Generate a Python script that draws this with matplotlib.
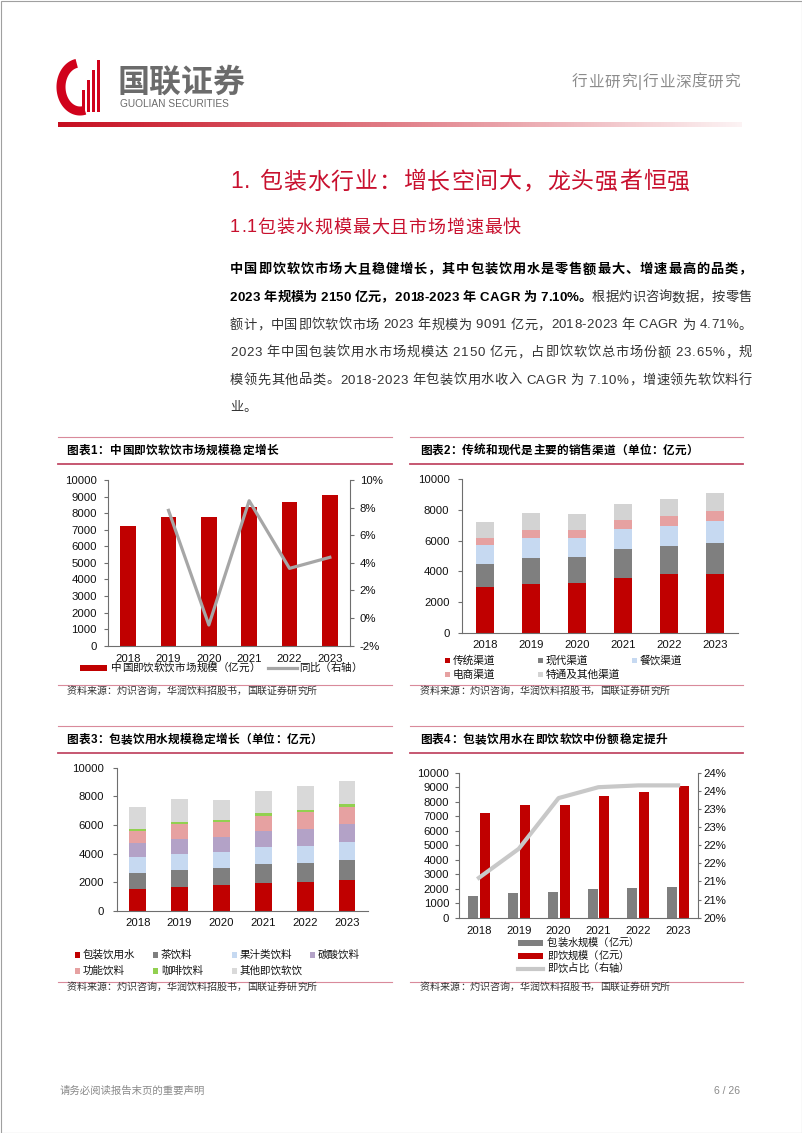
import numpy as np
import matplotlib
matplotlib.use('Agg')
import matplotlib.pyplot as plt
from matplotlib.patches import Rectangle
from matplotlib.font_manager import FontProperties

W, H = 802, 1133
FAM = ['Liberation Sans', 'Noto Sans CJK SC']
plt.rcParams['font.family'] = FAM

# ---------------- data ----------------
years = ['2018', '2019', '2020', '2021', '2022', '2023']

# chart 1
rtd_market = [7220, 7780, 7750, 8400, 8700, 9091]
rtd_yoy = [7.8, -0.5, 8.5, 3.6, 4.4]          # 2019-2023, %

# chart 2 (channels)
channel_labels = ['传统渠道', '现代渠道', '餐饮渠道', '电商渠道', '特通及其他渠道']
ch_traditional = [3000, 3200, 3250, 3600, 3800, 3830]
ch_modern = [1480, 1700, 1700, 1850, 1850, 2040]
ch_catering = [1240, 1300, 1250, 1320, 1300, 1410]
ch_ecom = [440, 460, 480, 580, 630, 650]
ch_other = [1060, 1120, 1070, 1050, 1120, 1161]

# chart 3 (categories)
cat_labels = ['包装饮用水', '茶饮料', '果汁类饮料', '碳酸饮料', '功能饮料', '咖啡饮料', '其他即饮软饮']
cat_water = [1525, 1680, 1790, 1960, 2040, 2150]
cat_tea = [1110, 1190, 1190, 1280, 1300, 1390]
cat_juice = [1100, 1120, 1100, 1190, 1210, 1260]
cat_carb = [980, 1030, 1070, 1170, 1190, 1240]
cat_func = [860, 1020, 1030, 1050, 1140, 1190]
cat_coffee = [140, 160, 160, 160, 190, 230]
cat_other = [1505, 1580, 1410, 1590, 1630, 1631]

# chart 4
water_size = cat_water
total_size = rtd_market
water_share = [21.1, 21.9, 23.3, 23.6, 23.65, 23.65]   # %
share_ticks = [20, 20.5, 21, 21.5, 22, 22.5, 23, 23.5, 24]
share_ticklabels = ['20%', '21%', '21%', '22%', '22%', '23%', '23%', '24%', '24%']

RED = '#C00000'
DGRAY = '#7F7F7F'
LBLUE = '#C6D9F1'
PINK = '#E6A1A1'
LGRAY = '#D3D3D3'
PURPLE = '#B3A2C7'
GREEN = '#92D050'
SP = '#6E6E6E'
ch_colors = [RED, DGRAY, LBLUE, PINK, LGRAY]
cat_colors = [RED, DGRAY, LBLUE, PURPLE, PINK, GREEN, '#D9D9D9']

fig = plt.figure(figsize=(W / 100, H / 100), dpi=100)
ov = fig.add_axes([0, 0, 1, 1], zorder=0)
ov.set_xlim(0, W)
ov.set_ylim(H, 0)
ov.axis('off')


def px(x0, y0, x1, y1):
    return [x0 / W, 1 - y1 / H, (x1 - x0) / W, (y1 - y0) / H]


renderer = fig.canvas.get_renderer()


def place_line(segments, x0, x1, y, size, justify=True):
    items = []
    for txt, wt, col in segments:
        fp = FontProperties(family=FAM, size=size, weight=wt)
        bw = renderer.get_text_width_height_descent('||', fp, ismath=False)[0]
        for c in txt:
            w = renderer.get_text_width_height_descent('|' + c + '|', fp, ismath=False)[0] - bw
            items.append((c, fp, col, w))
    total = sum(i[3] for i in items)
    n = len(items)
    gap = (x1 - x0 - total) / (n - 1) if (justify and n > 1) else 0
    x = x0
    for c, fp, col, w in items:
        if c != ' ':
            ov.text(x, y, c, fontproperties=fp, color=col, ha='left', va='center')
        x += w + gap


# ---------------- page frame & header ----------------
ov.add_patch(Rectangle((0.5, 0.5), W - 1, H - 1, fill=False, ec='#A0A0A0', lw=0.8))

# logo
t = np.radians(np.linspace(100, 285, 60))
ov.plot(80 + 19 * np.cos(t), 87 - 24 * np.sin(t), color='#D0021B', lw=6.5, solid_capstyle='butt')
for bx, top in zip([82, 87, 92, 97], [90, 80, 70, 60]):
    ov.add_patch(Rectangle((bx, top), 3, 112 - top, color='#D0021B', lw=0))
ov.text(118, 83, '国联证券', fontsize=23, fontweight='bold', color='#6B6B6B', ha='left', va='center')
ov.text(120, 104, 'GUOLIAN SECURITIES', fontsize=7.3, color='#6B6B6B', ha='left', va='center')
place_line([('行业研究|行业深度研究', 'normal', '#8C8C8C')], 572, 740, 82, 11.3)

grad = np.zeros((1, 300, 4))
grad[0, :, 0] = 0.78
grad[0, :, 1] = 0.05
grad[0, :, 2] = 0.12
grad[0, :, 3] = np.linspace(1.0, 0.05, 300)
ov.imshow(grad, extent=[58, 742, 127, 122], aspect='auto', interpolation='bilinear')

# ---------------- headings & body ----------------
TRED = '#C8102E'
place_line([('1. 包装水行业：增长空间大，龙头强者恒强', 'normal', TRED)], 230, 690, 182, 16.5)
place_line([('1.1包装水规模最大且市场增速最快', 'normal', TRED)], 230, 521, 228, 13)

BODY = 9.5
TXT = '#333333'
lines = [
    [('中国即饮软饮市场大且稳健增长，其中包装饮用水是零售额最大、增速最高的品类，', 'bold', '#000000')],
    [('2023 年规模为 2150 亿元，2018-2023 年 CAGR 为 7.10%。', 'bold', '#000000'),
     ('根据灼识咨询数据，按零售', 'normal', TXT)],
    [('额计，中国即饮软饮市场 2023 年规模为 9091 亿元，2018-2023 年 CAGR 为 4.71%。', 'normal', TXT)],
    [('2023 年中国包装饮用水市场规模达 2150 亿元，占即饮软饮总市场份额 23.65%，规', 'normal', TXT)],
    [('模领先其他品类。2018-2023 年包装饮用水收入 CAGR 为 7.10%，增速领先软饮料行', 'normal', TXT)],
    [('业。', 'normal', TXT)],
]
ys = [270, 298, 325.5, 353, 380.5, 408]
for i, (seg, yy) in enumerate(zip(lines, ys)):
    place_line(seg, 230, 752, yy, BODY, justify=(i < 5))

# ---------------- chart frames ----------------
LINE_L = '#D98A9B'
LINE_D = '#C24A66'
SOURCE = '资料来源：灼识咨询，华润饮料招股书，国联证券研究所'


def frame(x0, x1, ytop, ytitle, yunder, ysrc_line, ysrc, title, tx, tx1, sx1):
    ov.plot([x0, x1], [ytop, ytop], color=LINE_L, lw=0.8)
    ov.plot([x0, x1], [yunder, yunder], color=LINE_D, lw=1.3)
    ov.plot([x0, x1], [ysrc_line, ysrc_line], color=LINE_L, lw=0.8)
    place_line([(title, 'bold', '#000000')], tx, tx1, ytitle, 8.4)
    place_line([(SOURCE, 'normal', '#333333')], tx, sx1, ysrc, 7.2)


frame(58, 392, 436.7, 450.7, 463.5, 684.5, 691, '图表1：中国即饮软饮市场规模稳定增长', 66.5, 278, 317)
frame(410, 743, 436.7, 450.7, 463.5, 684.5, 691, '图表2：传统和现代是主要的销售渠道（单位：亿元）', 420, 698, 670)
frame(58, 392, 725.7, 740, 752.7, 982, 987.3, '图表3：包装饮用水规模稳定增长（单位：亿元）', 66.5, 322, 317)
frame(410, 743, 725.7, 740, 752.7, 982, 987.3, '图表4：包装饮用水在即饮软饮中份额稳定提升', 420, 667, 670)


def style(ax, ylabpad=4):
    ax.set_facecolor('none')
    ax.spines['top'].set_visible(False)
    ax.spines['right'].set_visible(False)
    for s in ['left', 'bottom']:
        ax.spines[s].set_color(SP)
        ax.spines[s].set_linewidth(0.8)
    ax.tick_params(axis='x', length=0, labelsize=8.2, pad=5, labelcolor='#111111')
    ax.tick_params(axis='y', length=3, width=0.8, color=SP, labelsize=8.2, pad=ylabpad,
                   direction='out', labelcolor='#111111')


x = np.arange(len(years))

# ---------------- chart 1 ----------------
ax1 = fig.add_axes(px(108, 480, 350, 645.7), zorder=2)
style(ax1, ylabpad=5)
ax1.bar(x, rtd_market, width=0.39, color=RED)
ax1.set_xlim(-0.5, 5.5)
ax1.set_ylim(0, 10000)
ax1.set_yticks(range(0, 10001, 1000))
ax1.set_xticks(x)
ax1.set_xticklabels(years)
ax1.tick_params(axis='x', pad=6)
ax1r = ax1.twinx()
ax1r.set_facecolor('none')
for s in ['top', 'left', 'bottom']:
    ax1r.spines[s].set_visible(False)
ax1r.spines['right'].set_color(SP)
ax1r.spines['right'].set_linewidth(0.8)
ax1r.plot(x[1:], rtd_yoy, color='#A6A6A6', lw=2.3)
ax1r.set_ylim(-2, 10)
ax1r.set_yticks(range(-2, 11, 2))
ax1r.set_yticklabels([f'{v}%' for v in range(-2, 11, 2)])
ax1r.tick_params(axis='y', length=3, width=0.8, color=SP, labelsize=8.2, pad=4, labelcolor='#111111')

# legend 1
ov.add_patch(Rectangle((80, 665), 27, 6, color=RED, lw=0))
place_line([('中国即饮软饮市场规模（亿元）', 'normal', '#111111')], 111, 260, 668, 7.6)
ov.plot([268, 297], [668, 668], color='#A6A6A6', lw=2.3)
place_line([('同比（右轴）', 'normal', '#111111')], 299, 362, 668, 7.6)

# ---------------- chart 2 ----------------
ax2 = fig.add_axes(px(462, 479, 738, 633), zorder=2)
style(ax2, ylabpad=6)
bottom = np.zeros(len(years))
for vals, col in zip([ch_traditional, ch_modern, ch_catering, ch_ecom, ch_other], ch_colors):
    ax2.bar(x, vals, bottom=bottom, width=0.4, color=col)
    bottom += np.array(vals)
ax2.set_xlim(-0.5, 5.5)
ax2.set_ylim(0, 10000)
ax2.set_yticks(range(0, 10001, 2000))
ax2.set_xticks(x)
ax2.set_xticklabels(years)

leg2_pos = [(445, 660.7), (538, 660.7), (632, 660.7), (445, 674.3), (538, 674.3)]
for (lx, ly), lab, col in zip(leg2_pos, channel_labels, ch_colors):
    ov.add_patch(Rectangle((lx, ly - 2.6), 5.2, 5.2, color=col, lw=0))
    ov.text(lx + 8, ly, lab, fontsize=7.7, ha='left', va='center', color='#111111')

# ---------------- chart 3 ----------------
ax3 = fig.add_axes(px(116.7, 767.7, 368, 910.7), zorder=2)
style(ax3, ylabpad=6)
bottom = np.zeros(len(years))
for vals, col in zip([cat_water, cat_tea, cat_juice, cat_carb, cat_func, cat_coffee, cat_other], cat_colors):
    ax3.bar(x, vals, bottom=bottom, width=0.4, color=col)
    bottom += np.array(vals)
ax3.set_xlim(-0.5, 5.5)
ax3.set_ylim(0, 10000)
ax3.set_yticks(range(0, 10001, 2000))
ax3.set_xticks(x)
ax3.set_xticklabels(years)

leg3_pos = [(75, 955), (153, 955), (232, 955), (310, 955), (75, 971), (153, 971), (232, 971)]
for (lx, ly), lab, col in zip(leg3_pos, cat_labels, cat_colors):
    ov.add_patch(Rectangle((lx, ly - 2.6), 5.2, 5.2, color=col, lw=0))
    ov.text(lx + 8, ly, lab, fontsize=7.6, ha='left', va='center', color='#111111')

# ---------------- chart 4 ----------------
ax4 = fig.add_axes(px(459, 772.7, 698, 917.7), zorder=2)
style(ax4, ylabpad=4)
ax4.bar(x - 0.145, water_size, width=0.25, color=DGRAY)
ax4.bar(x + 0.15, total_size, width=0.25, color=RED)
ax4.set_xlim(-0.5, 5.5)
ax4.set_ylim(0, 10000)
ax4.set_yticks(range(0, 10001, 1000))
ax4.set_xticks(x)
ax4.set_xticklabels(years)
ax4.tick_params(axis='x', pad=6)
ax4r = ax4.twinx()
ax4r.set_facecolor('none')
for s in ['top', 'left', 'bottom']:
    ax4r.spines[s].set_visible(False)
ax4r.spines['right'].set_color(SP)
ax4r.spines['right'].set_linewidth(0.8)
ax4r.plot(x, water_share, color='#C8C8C8', lw=3)
ax4r.set_ylim(20, 24)
ax4r.set_yticks(share_ticks)
ax4r.set_yticklabels(share_ticklabels)
ax4r.tick_params(axis='y', length=2, width=0.8, color=SP, labelsize=8.2, pad=2, labelcolor='#111111')

ov.add_patch(Rectangle((518, 940), 25, 6, color=DGRAY, lw=0))
place_line([('包装水规模（亿元）', 'normal', '#111111')], 547, 639, 943, 7.4)
ov.add_patch(Rectangle((518, 953), 25, 6, color=RED, lw=0))
place_line([('即饮规模（亿元）', 'normal', '#111111')], 547, 629, 956, 7.4)
ov.plot([518, 543], [968.5, 968.5], color='#C8C8C8', lw=3)
place_line([('即饮占比（右轴）', 'normal', '#111111')], 547, 629, 968.5, 7.4)

# ---------------- footer ----------------
ov.text(60, 1091, '请务必阅读报告末页的重要声明', fontsize=7.5, color='#8A8A8A', ha='left', va='center')
ov.text(740, 1091, '6 / 26', fontsize=7.5, color='#8A8A8A', ha='right', va='center')

fig.savefig('out.png', dpi=100)
